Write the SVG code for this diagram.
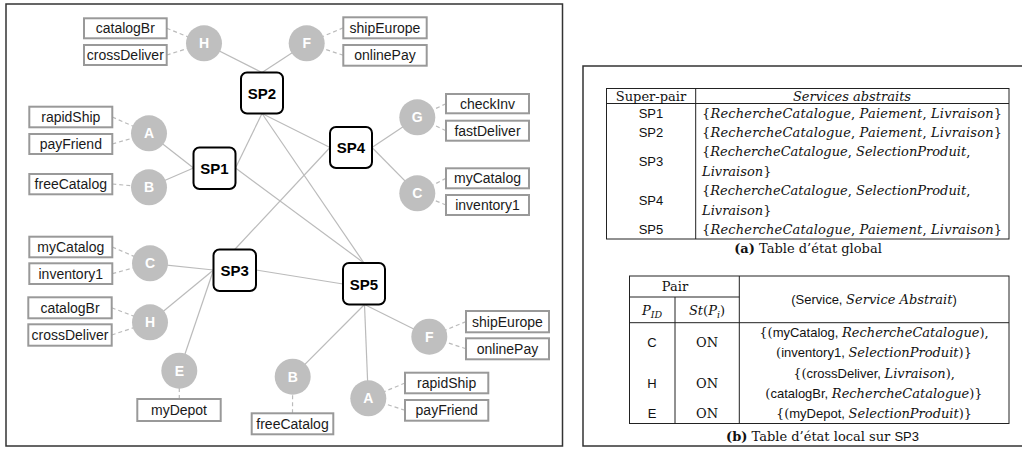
<svg xmlns="http://www.w3.org/2000/svg" width="1022" height="449" viewBox="0 0 1022 449">
<style>
.frame{fill:none;stroke:#333;stroke-width:1.5}
.sp rect{fill:#fff;stroke:#000;stroke-width:2}
.sp text{font-family:"Liberation Sans",Arial,sans-serif;font-weight:bold;font-size:15px;fill:#000;text-anchor:middle}
.peer circle{fill:#bfbfbf}
.peer text.lt{font-family:"Liberation Sans",Arial,sans-serif;font-weight:bold;font-size:14px;fill:#fff;text-anchor:middle}
.svc rect{fill:#fff;stroke:#999;stroke-width:2}
.svc text{font-family:"Liberation Sans",Arial,sans-serif;font-size:14px;fill:#1a1a1a;text-anchor:middle}
.edge line{stroke:#bbb;stroke-width:1.2}
.dash line{stroke:#bbb;stroke-width:1.2;stroke-dasharray:4 3}
.tl{stroke:#222;stroke-width:1;fill:none}
.rm{font-family:"DejaVu Serif","Liberation Serif",serif;font-style:normal;font-size:13px;fill:#111}
.it{font-family:"DejaVu Serif","Liberation Serif",serif;font-style:italic;font-size:13px;fill:#111}
.sf{font-family:"Liberation Sans",Arial,sans-serif;font-style:normal;font-size:13px;fill:#111}
.c{text-anchor:middle}
</style>

<rect class="frame" x="6" y="4" width="556.5" height="442"/>
<rect class="frame" x="583" y="66" width="460" height="380"/>

<g id="connectors">
<g class="edge">
<line x1="204" y1="43.3" x2="262" y2="72.5"/>
<line x1="306.7" y1="43.3" x2="262" y2="72.5"/>
<line x1="149" y1="133.3" x2="193.5" y2="168"/>
<line x1="149" y1="187.3" x2="193.5" y2="168"/>
<line x1="417.3" y1="117.3" x2="372" y2="147.5"/>
<line x1="417.3" y1="193.3" x2="372" y2="147.5"/>
<line x1="150" y1="263.3" x2="213.5" y2="270"/>
<line x1="150" y1="322.3" x2="213.5" y2="270"/>
<line x1="179.3" y1="370.7" x2="213.5" y2="270"/>
<line x1="292.7" y1="376.7" x2="364.5" y2="304.5"/>
<line x1="368.3" y1="398.3" x2="364.5" y2="304.5"/>
<line x1="429.3" y1="336.7" x2="364.5" y2="304.5"/>
<line x1="262" y1="113.5" x2="235.5" y2="168"/>
<line x1="262" y1="113.5" x2="330" y2="147.5"/>
<line x1="262" y1="113.5" x2="364" y2="263"/>
<line x1="235.5" y1="168" x2="364" y2="263"/>
<line x1="330" y1="147.5" x2="234.7" y2="249.5"/>
<line x1="256" y1="270" x2="343" y2="284"/>
</g>
<g class="dash">
<line x1="166.7" y1="28.3" x2="204" y2="43.3"/>
<line x1="166.7" y1="55" x2="204" y2="43.3"/>
<line x1="343.3" y1="27.8" x2="306.7" y2="43.3"/>
<line x1="343.3" y1="55.3" x2="306.7" y2="43.3"/>
<line x1="112.3" y1="117" x2="149" y2="133.3"/>
<line x1="112.3" y1="144" x2="149" y2="133.3"/>
<line x1="112.3" y1="184" x2="149" y2="187.3"/>
<line x1="446" y1="103.7" x2="417.3" y2="117.3"/>
<line x1="446" y1="130.7" x2="417.3" y2="117.3"/>
<line x1="446" y1="178.3" x2="417.3" y2="193.3"/>
<line x1="446" y1="205" x2="417.3" y2="193.3"/>
<line x1="112.3" y1="247" x2="150" y2="263.3"/>
<line x1="112.3" y1="273.7" x2="150" y2="263.3"/>
<line x1="111.7" y1="307.8" x2="150" y2="322.3"/>
<line x1="111.7" y1="335" x2="150" y2="322.3"/>
<line x1="179.3" y1="399" x2="179.3" y2="370.7"/>
<line x1="292.5" y1="413.3" x2="292.7" y2="376.7"/>
<line x1="405" y1="383" x2="368.3" y2="398.3"/>
<line x1="405" y1="410.3" x2="368.3" y2="398.3"/>
<line x1="466" y1="321.6" x2="429.3" y2="336.7"/>
<line x1="466" y1="348.8" x2="429.3" y2="336.7"/>
</g>
</g>

<g id="SP1" class="sp"><rect x="193.5" y="147.5" width="42" height="41.5" rx="6"/><text x="214.5" y="173.5">SP1</text></g>
<g id="SP2" class="sp"><rect x="241" y="72.5" width="42" height="41" rx="6"/><text x="262" y="98.5">SP2</text></g>
<g id="SP4" class="sp"><rect x="330" y="127" width="42" height="41" rx="6"/><text x="351" y="153">SP4</text></g>
<g id="SP3" class="sp"><rect x="213.5" y="249.5" width="42.5" height="41.5" rx="6"/><text x="234.7" y="275.5">SP3</text></g>
<g id="SP5" class="sp"><rect x="343" y="263" width="42" height="41.5" rx="6"/><text x="364" y="289.5">SP5</text></g>

<g id="peer-H1" class="peer"><circle cx="204" cy="43.3" r="18"/><text class="lt" x="204" y="48.3">H</text></g>
<g id="peer-F1" class="peer"><circle cx="306.7" cy="43.3" r="18"/><text class="lt" x="306.7" y="48.3">F</text></g>
<g id="peer-A1" class="peer"><circle cx="149" cy="133.3" r="18"/><text class="lt" x="149" y="138.3">A</text></g>
<g id="peer-B1" class="peer"><circle cx="149" cy="187.3" r="18"/><text class="lt" x="149" y="192.3">B</text></g>
<g id="peer-G" class="peer"><circle cx="417.3" cy="117.3" r="18"/><text class="lt" x="417.3" y="122.3">G</text></g>
<g id="peer-C1" class="peer"><circle cx="417.3" cy="193.3" r="18"/><text class="lt" x="417.3" y="198.3">C</text></g>
<g id="peer-C2" class="peer"><circle cx="150" cy="263.3" r="18"/><text class="lt" x="150" y="268.3">C</text></g>
<g id="peer-H2" class="peer"><circle cx="150" cy="322.3" r="18"/><text class="lt" x="150" y="327.3">H</text></g>
<g id="peer-E" class="peer"><circle cx="179.3" cy="370.7" r="18"/><text class="lt" x="179.3" y="375.7">E</text></g>
<g id="peer-B2" class="peer"><circle cx="292.7" cy="376.7" r="18"/><text class="lt" x="292.7" y="381.7">B</text></g>
<g id="peer-A2" class="peer"><circle cx="368.3" cy="398.3" r="18"/><text class="lt" x="368.3" y="403.3">A</text></g>
<g id="peer-F2" class="peer"><circle cx="429.3" cy="336.7" r="18"/><text class="lt" x="429.3" y="341.7">F</text></g>

<g id="svc-catalogBr1" class="svc"><rect x="84" y="18.3" width="82.7" height="20"/><text x="125.3" y="33.3">catalogBr</text></g>
<g id="svc-crossDeliver1" class="svc"><rect x="84" y="45" width="82.7" height="20"/><text x="125.3" y="60">crossDeliver</text></g>
<g id="svc-shipEurope1" class="svc"><rect x="343.3" y="17.3" width="83.4" height="21"/><text x="385" y="32.8">shipEurope</text></g>
<g id="svc-onlinePay1" class="svc"><rect x="343.3" y="45" width="83.4" height="20.7"/><text x="385" y="60.3">onlinePay</text></g>
<g id="svc-rapidShip1" class="svc"><rect x="29.3" y="106.7" width="83" height="20.6"/><text x="70.8" y="122">rapidShip</text></g>
<g id="svc-payFriend1" class="svc"><rect x="29.3" y="134" width="83" height="20"/><text x="70.8" y="149">payFriend</text></g>
<g id="svc-freeCatalog1" class="svc"><rect x="29.3" y="174" width="83" height="20.3"/><text x="70.8" y="189">freeCatalog</text></g>
<g id="svc-checkInv" class="svc"><rect x="446" y="94" width="83" height="19.3"/><text x="487.5" y="108.7">checkInv</text></g>
<g id="svc-fastDeliver" class="svc"><rect x="446" y="120.7" width="83" height="20"/><text x="487.5" y="135.7">fastDeliver</text></g>
<g id="svc-myCatalog1" class="svc"><rect x="446" y="168.3" width="83" height="20"/><text x="487.5" y="183.3">myCatalog</text></g>
<g id="svc-inventory1a" class="svc"><rect x="446" y="195" width="83" height="20"/><text x="487.5" y="210">inventory1</text></g>
<g id="svc-myCatalog2" class="svc"><rect x="29.3" y="236.7" width="83" height="20.6"/><text x="70.8" y="252">myCatalog</text></g>
<g id="svc-inventory1b" class="svc"><rect x="29.3" y="263.3" width="83" height="20.7"/><text x="70.8" y="278.7">inventory1</text></g>
<g id="svc-catalogBr2" class="svc"><rect x="28.3" y="297.3" width="83.4" height="21"/><text x="70" y="312.8">catalogBr</text></g>
<g id="svc-crossDeliver2" class="svc"><rect x="28.3" y="324.3" width="83.4" height="21.4"/><text x="70" y="340">crossDeliver</text></g>
<g id="svc-myDepot" class="svc"><rect x="137.3" y="399" width="83.4" height="22"/><text x="179" y="415">myDepot</text></g>
<g id="svc-freeCatalog2" class="svc"><rect x="251.7" y="413.3" width="81.6" height="21"/><text x="292.5" y="428.8">freeCatalog</text></g>
<g id="svc-rapidShip2" class="svc"><rect x="405" y="372.7" width="83.3" height="20.6"/><text x="446.7" y="388">rapidShip</text></g>
<g id="svc-payFriend2" class="svc"><rect x="405" y="400" width="83.3" height="20.7"/><text x="446.7" y="415.3">payFriend</text></g>
<g id="svc-shipEurope2" class="svc"><rect x="466" y="311" width="83" height="21.3"/><text x="507.5" y="326.6">shipEurope</text></g>
<g id="svc-onlinePay2" class="svc"><rect x="466" y="338.3" width="83" height="21"/><text x="507.5" y="353.8">onlinePay</text></g>

<g id="table-a">
<rect class="tl" x="606.5" y="88.5" width="402.5" height="150.5"/>
<line class="tl" x1="606.5" y1="103.5" x2="1009" y2="103.5"/>
<line class="tl" x1="695.7" y1="88.5" x2="695.7" y2="239"/>
<text class="rm c" x="651" y="100.5">Super-pair</text>
<text class="it c" x="852" y="100.5">Services abstraits</text>
<text class="sf c" x="651" y="117.5">SP1</text>
<text class="sf c" x="651" y="137">SP2</text>
<text class="sf c" x="651" y="166">SP3</text>
<text class="sf c" x="651" y="204.7">SP4</text>
<text class="sf c" x="651" y="234">SP5</text>
<text class="it" x="702" y="117.5" textLength="300" lengthAdjust="spacing"><tspan class="rm">{</tspan>RechercheCatalogue<tspan class="rm">,</tspan> Paiement<tspan class="rm">,</tspan> Livraison<tspan class="rm">}</tspan></text>
<text class="it" x="702" y="137" textLength="300" lengthAdjust="spacing"><tspan class="rm">{</tspan>RechercheCatalogue<tspan class="rm">,</tspan> Paiement<tspan class="rm">,</tspan> Livraison<tspan class="rm">}</tspan></text>
<text class="it" x="702" y="156.3"><tspan class="rm">{</tspan>RechercheCatalogue<tspan class="rm">,</tspan> SelectionProduit<tspan class="rm">,</tspan></text>
<text class="it" x="702" y="175.7">Livraison<tspan class="rm">}</tspan></text>
<text class="it" x="702" y="195"><tspan class="rm">{</tspan>RechercheCatalogue<tspan class="rm">,</tspan> SelectionProduit<tspan class="rm">,</tspan></text>
<text class="it" x="702" y="214.5">Livraison<tspan class="rm">}</tspan></text>
<text class="it" x="702" y="234" textLength="300" lengthAdjust="spacing"><tspan class="rm">{</tspan>RechercheCatalogue<tspan class="rm">,</tspan> Paiement<tspan class="rm">,</tspan> Livraison<tspan class="rm">}</tspan></text>
<text class="rm c" x="808" y="253" font-size="11.5"><tspan font-weight="bold">(a)</tspan> Table d’état global</text>
</g>

<g id="table-b">
<rect class="tl" x="629.5" y="276" width="379.5" height="147.5"/>
<line class="tl" x1="629.5" y1="297" x2="739.3" y2="297"/>
<line class="tl" x1="629.5" y1="322.7" x2="1009" y2="322.7" stroke-width="1.3"/>
<line class="tl" x1="739.3" y1="276" x2="739.3" y2="423.5"/>
<line class="tl" x1="675" y1="297" x2="675" y2="423.5"/>
<text class="rm c" x="675" y="291">Pair</text>
<text class="it c" x="652" y="315">P<tspan font-size="9.5" dy="2.5">ID</tspan></text>
<text class="it c" x="707" y="315">St<tspan class="rm">(</tspan>P<tspan font-size="9.5" dy="2.5">i</tspan><tspan class="rm" dy="-2.5">)</tspan></text>
<text class="sf c" x="874" y="304">(Service, <tspan class="it">Service Abstrait</tspan>)</text>
<text class="sf c" x="652" y="347.4">C</text>
<text class="rm c" x="707" y="347.4">ON</text>
<text class="sf c" x="652" y="387.5">H</text>
<text class="rm c" x="707" y="387.5">ON</text>
<text class="sf c" x="652" y="417.7">E</text>
<text class="rm c" x="707" y="417.7">ON</text>
<text class="sf c" x="874" y="337.3"><tspan class="rm">{(</tspan>myCatalog, <tspan class="it">RechercheCatalogue</tspan><tspan class="rm">),</tspan></text>
<text class="sf c" x="874" y="357.4"><tspan class="rm">(</tspan>inventory1, <tspan class="it">SelectionProduit</tspan><tspan class="rm">)}</tspan></text>
<text class="sf c" x="874" y="377.5"><tspan class="rm">{(</tspan>crossDeliver, <tspan class="it">Livraison</tspan><tspan class="rm">),</tspan></text>
<text class="sf c" x="874" y="397.6"><tspan class="rm">(</tspan>catalogBr, <tspan class="it">RechercheCatalogue</tspan><tspan class="rm">)}</tspan></text>
<text class="sf c" x="874" y="417.7"><tspan class="rm">{(</tspan>myDepot, <tspan class="it">SelectionProduit</tspan><tspan class="rm">)}</tspan></text>
<text class="rm c" x="822.5" y="441" font-size="11.5"><tspan font-weight="bold">(b)</tspan> Table d’état local sur <tspan class="sf" font-size="11.5">SP3</tspan></text>
</g>
</svg>
